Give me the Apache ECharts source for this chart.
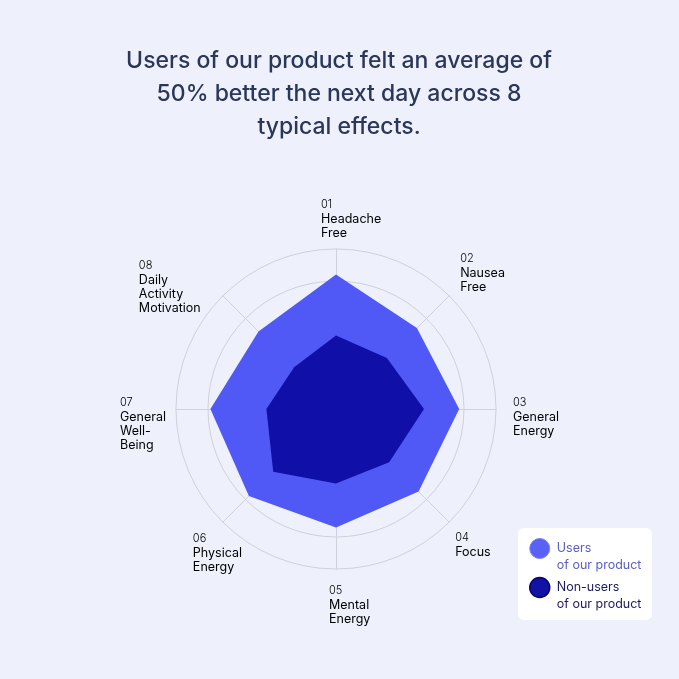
<!DOCTYPE html>
<html>
<head>
<meta charset="utf-8">
<script src="https://cdn.jsdelivr.net/npm/echarts@6/dist/echarts.min.js"></script>
<style>
html,body{margin:0;padding:0;background:#EEF1FC;}
#c{width:679px;height:679px;}
</style>
</head>
<body>
<div id="c"></div>
<script>
var numbers = ['01','02','03','04','05','06','07','08'];
var effects = ['Headache\nFree','Nausea\nFree','General\nEnergy','Focus','Mental\nEnergy','Physical\nEnergy','General\nWell-\nBeing','Daily\nActivity\nMotivation'];
var usersValues = [84, 71.5, 77, 73, 74, 77, 78.5, 68.5];
var nonUsersValues = [46, 45, 55, 47, 46.5, 55.5, 43.5, 37];
var maxValue = 100;

var CX = 336, CY = 409, R = 160;
// ECharts places indicators counter-clockwise; reorder so 01..08 run clockwise
var order = [0,7,6,5,4,3,2,1];
function reorder(a){ return order.map(function(i){ return a[i]; }); }

// label offsets (from axis end points)
var labelOff = [[-15,-52],[11,-45],[17,-14],[6,8],[-7,14],[-30,9],[-56,-14],[-84,-38]];
var graphics = numbers.map(function(n, i){
  var ang = Math.PI/2 - i*2*Math.PI/8;
  var ex = CX + R*Math.cos(ang), ey = CY - R*Math.sin(ang);
  var lines = effects[i].split('\n').map(function(t){ return '{t|'+t+'}'; }).join('\n');
  return {
    type:'text', x: ex + labelOff[i][0], y: ey + labelOff[i][1],
    style:{
      text: '{n|'+n+'}\n' + lines,
      verticalAlign:'top', align:'left',
      rich:{
        n:{fontFamily:'Inter', fontSize:11, color:'#8a8e9c', lineHeight:15, fontWeight:300},
        t:{fontFamily:'Inter', fontSize:12.5, color:'#1f2230', lineHeight:14}
      }
    }
  };
});
// legend card
graphics.push({type:'rect', z:-1, shape:{x:518, y:528, width:134, height:92, r:6}, style:{fill:'#ffffff'}});

var chart = echarts.init(document.getElementById('c'));
chart.setOption({
  backgroundColor:'#EEF1FC',
  animation:false,
  title:{
    text:'Users of our product felt an average of\n50% better the next day across 8\ntypical effects.',
    left:334, top:40,
    textAlign:'center',
    textStyle:{fontFamily:'Inter', fontSize:23, fontWeight:500, color:'#2b3759', lineHeight:33}
  },
  legend:{
    orient:'vertical', left:529, top:523,
    padding:0, itemWidth:20, itemHeight:20, itemGap:-12,
    icon:'circle',
    data:[
      {name:'Users', itemStyle:{color:'#5A61F5', borderColor:'#7a80f7', borderWidth:1},
       textStyle:{color:'#5a5fc4'}},
      {name:'Non-users', itemStyle:{color:'#1212A4', borderColor:'#06066e', borderWidth:1.5},
       textStyle:{color:'#1b1c5c'}}
    ],
    formatter:function(n){ return '\n' + n + '\nof our product'; },
    textStyle:{fontFamily:'Inter', fontSize:12.5, lineHeight:17, padding:[0,0,0,2]}
  },
  radar:{
    center:[CX, CY], radius:R, splitNumber:5, shape:'circle',
    indicator: reorder(effects).map(function(e){ return {name:e, max:maxValue}; }),
    axisName:{show:false},
    splitLine:{lineStyle:{color:'#cfd2dd', width:1}},
    splitArea:{show:false},
    axisLine:{lineStyle:{color:'#cfd2dd', width:1}},
    axisTick:{show:false}, axisLabel:{show:false}
  },
  series:[
    {type:'radar', name:'Users', symbol:'none', z:2,
     itemStyle:{color:'#5A61F5'}, lineStyle:{width:0},
     areaStyle:{color:'#5059F6', opacity:1},
     data:[{name:'Users', value: reorder(usersValues)}]},
    {type:'radar', name:'Non-users', symbol:'none', z:3,
     itemStyle:{color:'#1212A4'}, lineStyle:{width:0},
     areaStyle:{color:'#1010A8', opacity:1},
     data:[{name:'Non-users', value: reorder(nonUsersValues)}]}
  ],
  graphic: graphics
});
</script>
</body>
</html>
